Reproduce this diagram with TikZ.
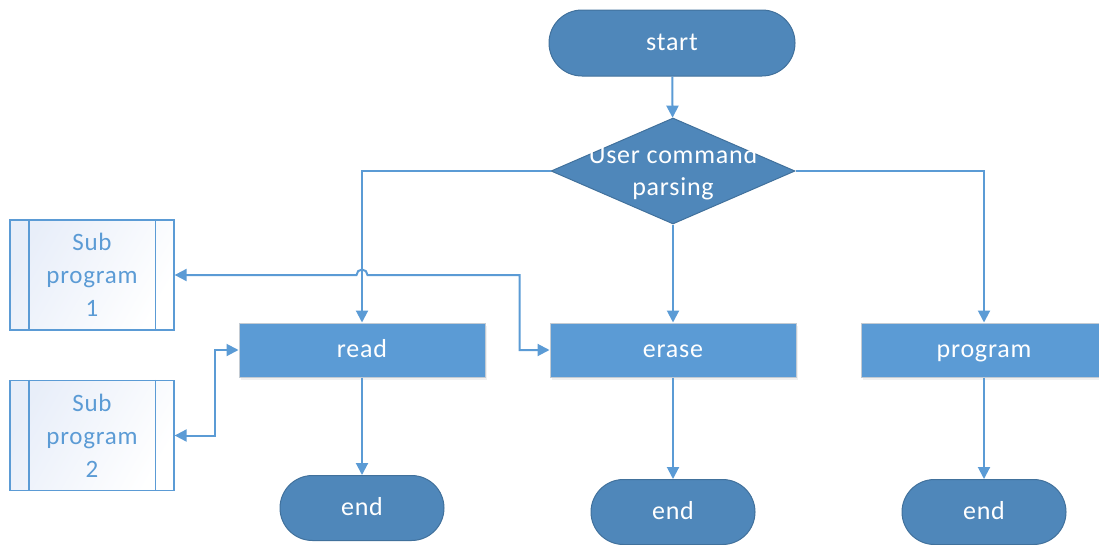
\documentclass[tikz,border=0pt]{standalone}
\usepackage{fontspec}
\setmainfont{Carlito}[LetterSpace=3]
\usetikzlibrary{arrows.meta,calc,shadows,shapes.geometric}
\definecolor{termfill}{HTML}{4F87BA}
\definecolor{termedge}{HTML}{41719C}
\definecolor{procfill}{HTML}{5B9BD5}
\definecolor{procedge}{HTML}{C3CBD3}
\definecolor{wire}{HTML}{5B9BD5}
\definecolor{subtint}{HTML}{E8EEF9}
\tikzset{
  x=1pt, y=1pt,
  mainfont/.style={font=\fontsize{26}{32}\selectfont, text height=17pt, text depth=2pt},
  terminal/.style={mainfont, draw=termedge, line width=1pt, fill=termfill, text=white,
    minimum width=246pt, minimum height=66pt, rounded corners=33pt, inner sep=0pt},
  endterm/.style={terminal, minimum width=164pt, minimum height=65pt, rounded corners=32.5pt},
  decision/.style={draw=termedge, line width=1pt, fill=termfill, diamond,
    minimum width=244pt, minimum height=106pt, inner sep=0pt},
  process/.style={mainfont, draw=procedge, line width=1pt, fill=procfill, text=white,
    minimum width=246pt, minimum height=54pt, inner sep=0pt,
    drop shadow={opacity=0.12, shadow xshift=1.5pt, shadow yshift=-2.5pt}},
  subproc/.style={font=\fontsize{25}{33}\selectfont, draw=wire, line width=1.3pt,
    left color=subtint, right color=white, shading angle=60, text=wire,
    minimum width=164pt, minimum height=110pt, inner sep=0pt, align=center},
  conn/.style={draw=wire, line width=2pt, -{Triangle[length=12pt,width=12pt]}},
  biconn/.style={draw=wire, line width=2pt,
    {Triangle[length=12pt,width=12pt]}-{Triangle[length=12pt,width=12pt]}},
}
\begin{document}
\begin{tikzpicture}
\useasboundingbox (0,0) rectangle (1099,-544);
\clip (0,0) rectangle (1099,-544);

% terminals and decision
\node[terminal] (start) at (672,-43) {start};
\node[decision] (parse) at (673,-171) {};
\node[font=\fontsize{26}{32}\selectfont, text=white, align=center] (parsetxt) at (673,-173) {User command\\parsing};

% processes
\node[process] (read) at (362,-350) {read};
\node[process] (erase) at (673,-350) {erase};
\node[process] (prog) at (984,-350) {program};

% end terminals
\node[endterm] (end1) at (362,-508) {end};
\node[endterm] (end2) at (673,-512) {end};
\node[endterm] (end3) at (984,-512) {end};

% predefined sub-process boxes
\node[subproc] (sub1) at (92,-275) {Sub\\program\\1};
\node[subproc] (sub2) at (92,-435.5) {Sub\\program\\2};
\foreach \s in {sub1,sub2}{
  \draw[draw=wire, line width=1.3pt] ($(\s.north west)+(19.5,0)$) -- ($(\s.south west)+(19.5,0)$);
  \draw[draw=wire, line width=1.3pt] ($(\s.north east)+(-19.5,0)$) -- ($(\s.south east)+(-19.5,0)$);
}

% main flow
\path[conn] (start) -- (parse);
\path[conn] (parse.west) -| (read.north);
\path[conn] (parse.east) -| (prog.north);
\path[conn] (parse.south) -- (erase.north);
\path[conn] (read) -- (end1);
\path[conn] (erase) -- (end2);
\path[conn] (prog) -- (end3);

% links to the sub-programs (with a hop over the read branch)
\coordinate (hopL) at ($(read.north |- sub1.east)+(-5.5,0)$);
\coordinate (bend) at ($(sub1.east -| erase.west)+(-30,0)$);
\path[biconn] (sub1.east) -- (hopL) arc(180:0:5.5) -- (bend) |- (erase.west);
\path[biconn] (sub2.east) -| ($(read.west)+(-24,0)$) -- (read.west);
\end{tikzpicture}
\end{document}
